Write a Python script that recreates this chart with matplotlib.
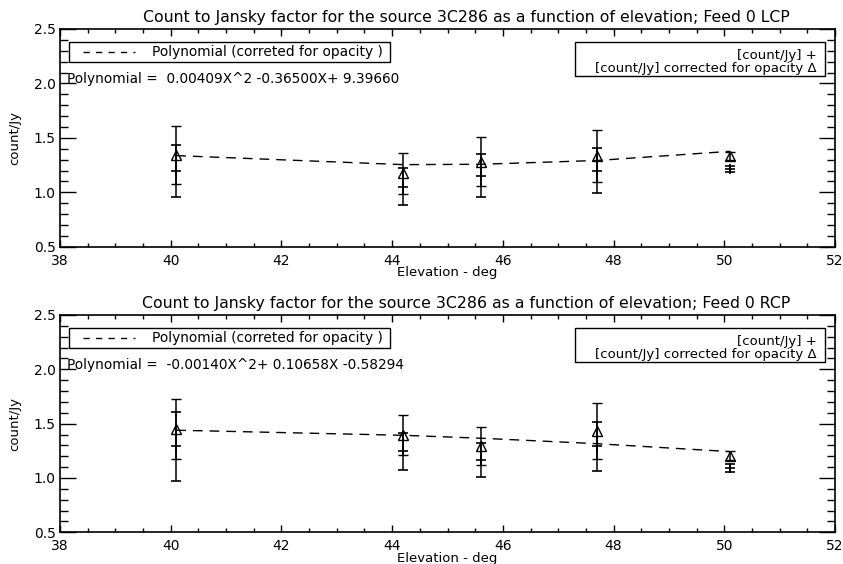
import numpy as np
import matplotlib
matplotlib.use("Agg")
import matplotlib.pyplot as plt
from matplotlib.patches import Rectangle
from matplotlib.lines import Line2D
from matplotlib.ticker import MultipleLocator, FormatStrFormatter

plt.rcParams['font.family'] = ['DejaVu Sans']

# Elevation of each observation (deg)
elev = [40.1, 44.2, 45.6, 47.7, 50.1]

# Feed 0 LCP
lcp_raw = [1.195, 1.053, 1.153, 1.200, 1.213]
lcp_raw_err = [0.235, 0.170, 0.200, 0.210, 0.030]
lcp_corr = [1.340, 1.175, 1.282, 1.330, 1.335]
lcp_corr_err = [0.265, 0.190, 0.224, 0.240, 0.036]
lcp_coef = [0.00409, -0.36500, 9.39660]

# Feed 0 RCP
rcp_raw = [1.290, 1.245, 1.163, 1.290, 1.090]
rcp_raw_err = [0.320, 0.168, 0.157, 0.229, 0.035]
rcp_corr = [1.450, 1.397, 1.298, 1.434, 1.205]
rcp_corr_err = [0.275, 0.183, 0.175, 0.256, 0.043]
rcp_coef = [-0.00140, 0.10658, -0.58294]

panels = [
    ("LCP", lcp_raw, lcp_raw_err, lcp_corr, lcp_corr_err, lcp_coef),
    ("RCP", rcp_raw, rcp_raw_err, rcp_corr, rcp_corr_err, rcp_coef),
]


def poly_text(coef):
    s = "%.5fX^2" % coef[0]
    s += ("+ %.5fX" % coef[1]) if coef[1] >= 0 else (" %.5fX" % coef[1])
    s += ("+ %.5f" % coef[2]) if coef[2] >= 0 else (" %.5f" % coef[2])
    return "Polynomial =  " + s


fig = plt.figure(figsize=(8.43, 5.64), dpi=100)
W, H = 843, 564
ax_left, ax_right = 60, 835
tops = [29, 315]
bottoms = [246.7, 532.3]

for i, (feed, raw, raw_err, corr, corr_err, coef) in enumerate(panels):
    ax = fig.add_axes([ax_left / W, 1 - bottoms[i] / H,
                       (ax_right - ax_left) / W, (bottoms[i] - tops[i]) / H])
    ax.set_xlim(38, 52)
    ax.set_ylim(0.5, 2.5)
    ax.xaxis.set_major_locator(MultipleLocator(2))
    ax.xaxis.set_minor_locator(MultipleLocator(0.5))
    ax.yaxis.set_major_locator(MultipleLocator(0.5))
    ax.yaxis.set_minor_locator(MultipleLocator(0.1))
    ax.yaxis.set_major_formatter(FormatStrFormatter('%.1f'))
    ax.tick_params(axis='both', which='both', direction='in', top=True, right=True,
                   labelsize=10, width=1.0, colors='black')
    ax.tick_params(axis='x', which='major', length=5, pad=5)
    ax.tick_params(axis='x', which='minor', length=2.8)
    ax.tick_params(axis='y', which='major', length=11.5, pad=3)
    ax.tick_params(axis='y', which='minor', length=5.8)
    for sp in ax.spines.values():
        sp.set_linewidth(1.2)

    # fitted polynomial evaluated at each elevation
    ax.plot(elev, np.polyval(coef, elev), color='black', lw=1.0,
            linestyle=(0, (7, 5)), zorder=2)

    ax.errorbar(elev, raw, yerr=raw_err, fmt='+', color='black', ms=7,
                mew=1.2, elinewidth=1.1, capsize=3.3, capthick=1.1, zorder=3)
    ax.errorbar(elev, corr, yerr=corr_err, fmt='^', mfc='none', mec='black',
                color='black', ms=6.5, mew=1.0, elinewidth=1.1, capsize=3.3,
                capthick=1.1, zorder=3)

    ax.set_title("Count to Jansky factor for the source 3C286 as a function of "
                 "elevation; Feed 0 " + feed, fontsize=11.3, pad=5, x=0.524)
    ax.set_xlabel("Elevation - deg", fontsize=9.5, labelpad=-1)
    ax.set_ylabel("count/Jy", fontsize=9.5, labelpad=9)

    # legend for the fitted curve
    ax.add_patch(Rectangle((0.0116, 0.85), 0.4144, 0.0917, transform=ax.transAxes,
                           fill=False, lw=1.0, ec='black', zorder=4))
    ax.add_line(Line2D([0.0297, 0.0968], [0.896, 0.896], transform=ax.transAxes,
                       color='black', lw=1.0, linestyle=(0, (4.5, 4.5))))
    ax.text(0.1187, 0.896, "Polynomial (correted for opacity )",
            transform=ax.transAxes, fontsize=9.9, va='center', ha='left')

    # legend for the two data series
    ax.add_patch(Rectangle((0.6645, 0.784), 0.3225, 0.1577, transform=ax.transAxes,
                           fill=False, lw=1.0, ec='black', zorder=4))
    ax.text(0.976, 0.880, "[count/Jy] +", transform=ax.transAxes, fontsize=9.5,
            va='center', ha='right')
    ax.text(0.976, 0.820, "[count/Jy] corrected for opacity \u0394",
            transform=ax.transAxes, fontsize=9.5, va='center', ha='right')

    ax.text(0.009, 0.772, poly_text(coef), transform=ax.transAxes,
            fontsize=9.8, va='center', ha='left')

fig.savefig("out.png", dpi=100)
